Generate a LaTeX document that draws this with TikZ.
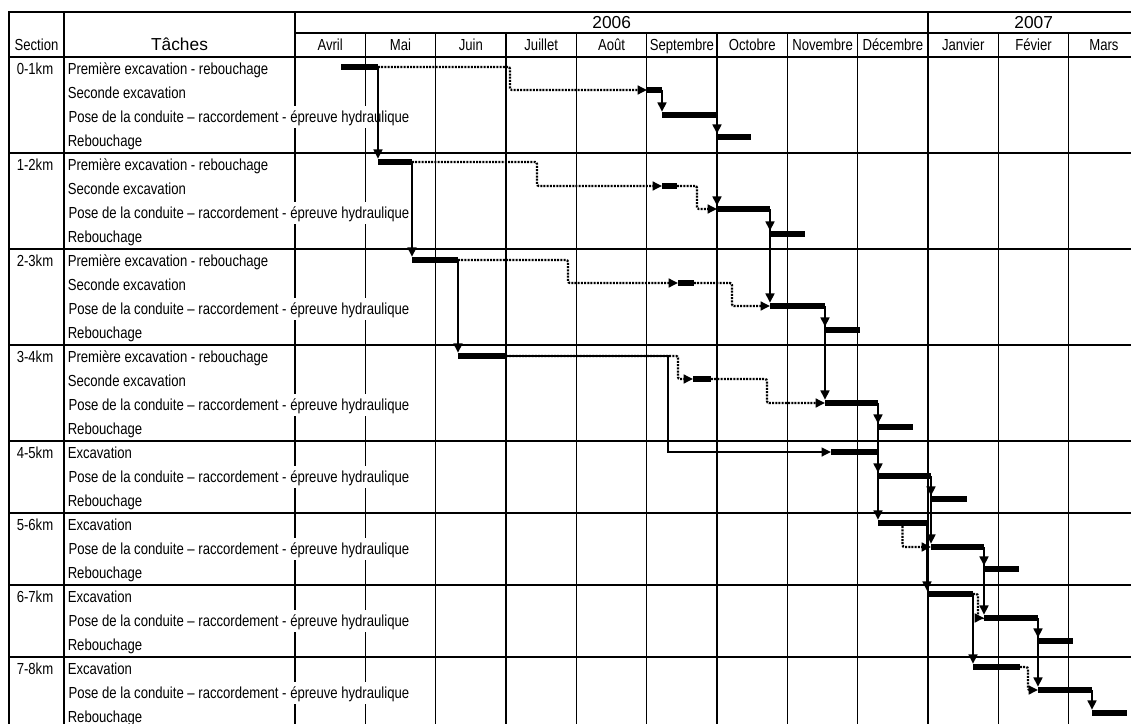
\documentclass[tikz,border=0pt]{standalone}
\usepackage{fontspec}
\setmainfont{Liberation Sans}[FakeStretch=0.82]
\newfontfamily\hdrfont{Liberation Sans}
\usetikzlibrary{arrows.meta,fit,calc}
\newcommand\monthw{70.34}
\newcommand\gbar[4]{\coordinate (#1w) at (#2,#4); \coordinate (#1e) at (#3,#4); \node[barnode, fit=(#1w)(#1e)] (#1) {};}
\tikzset{
  gthin/.style={line width=1pt},
  gthick/.style={line width=1.6pt},
  gframe/.style={line width=2.1pt},
  narrowtxt/.style={font=\fontsize{12pt}{14pt}\selectfont, inner sep=0pt},
  tasktxt/.style={narrowtxt, anchor=base west},
  posetxt/.style={narrowtxt, anchor=base west, fill=white, inner xsep=1pt, inner ysep=3pt, text height=9.5pt, text depth=1pt},
  centxt/.style={narrowtxt, anchor=base},
  widetxt/.style={font=\hdrfont\fontsize{13pt}{15pt}\selectfont, inner sep=0pt, anchor=base},
  barnode/.style={fill=black, draw=none, inner xsep=0pt, inner ysep=2.4pt, outer sep=0pt},
  dep/.style={line width=2.2pt, -{Triangle[length=7pt,width=6.5pt]}},
  link/.style={line width=1.7pt, dash pattern=on 1.5pt off 0.9pt, rounded corners=1.5pt, -{Triangle[length=7pt,width=6.5pt]}}
}
\begin{document}
\begin{tikzpicture}[x=0.75pt,y=-0.75pt]
\useasboundingbox (0,0) rectangle (1131,724);
\clip (0,0) rectangle (1131,724);
% grid
\foreach \i in {1,...,11} { \draw[gthin] ({295+\i*\monthw},33) -- ({295+\i*\monthw},730); }
\draw[gthin] ({295+9*\monthw},12) -- ({295+9*\monthw},33);
\draw[gthin] (295,33) -- (1140,33);
\draw[gthick] (9,57) -- (1140,57);
\foreach \y in {153,249,345,441,513,585,657} { \draw[gthick] (9,\y) -- (1140,\y); }
\draw[gthick] (64,12) -- (64,730);
\draw[gthick] (295,12) -- (295,730);
\draw[gframe] (1140,12) -- (9,12) -- (9,730);
% headers
\node[widetxt] (y2006) at (611.7,28.6) {2006};
\node[widetxt] (y2007) at (1033.7,28.6) {2007};
\node[centxt] (hsec) at (36.5,50.8) {Section};
\node[widetxt] (htask) at (179.5,51) {Tâches};
\foreach \i/\m in {0/Avril,1/Mai,2/Juin,3/Juillet,4/Août,5/Septembre,6/Octobre,7/Novembre,8/Décembre,9/Janvier,10/Févier,11/Mars}{
  \node[centxt] (m\i) at ({295+(\i+0.5)*\monthw},50.8) {\m};
}
% task texts
\foreach \k/\lab/\b in {1/0-1km/57,2/1-2km/153,3/2-3km/249,4/3-4km/345}{
  \node[centxt] (sec\k) at (35,\b+17.7) {\lab};
  \node[tasktxt] (t\k-a) at (67.5,\b+17.7) {Première excavation - rebouchage};
  \node[tasktxt] (t\k-b) at (67.5,\b+41.7) {Seconde excavation};
  \node[posetxt] (t\k-c) at (67,\b+65.7) {Pose de la conduite – raccordement - épreuve hydraulique};
  \node[tasktxt] (t\k-d) at (67.5,\b+89.7) {Rebouchage};
}
\foreach \k/\lab/\b in {5/4-5km/441,6/5-6km/513,7/6-7km/585,8/7-8km/657}{
  \node[centxt] (sec\k) at (35,\b+17.7) {\lab};
  \node[tasktxt] (t\k-a) at (67.5,\b+17.7) {Excavation};
  \node[posetxt] (t\k-c) at (67,\b+41.7) {Pose de la conduite – raccordement - épreuve hydraulique};
  \node[tasktxt] (t\k-d) at (67.5,\b+65.7) {Rebouchage};
}
% bars
\gbar{a1}{341}{378}{67}
\gbar{s1}{647}{662}{90}
\gbar{p1}{662}{717}{115}
\gbar{r1}{717}{751}{137}
\gbar{b1}{378}{412}{162}
\gbar{s2}{662}{677}{186}
\gbar{p2}{717}{770}{209}
\gbar{r2}{770}{805}{234}
\gbar{c1}{412}{458}{260}
\gbar{s3}{678}{694}{283}
\gbar{p3}{770}{825}{306}
\gbar{r3}{825}{860}{330}
\gbar{d1}{458}{506}{356}
\gbar{s4}{693}{711}{379}
\gbar{p4}{825}{878}{403}
\gbar{r4}{878}{913}{427}
\gbar{e5}{831}{878}{452}
\gbar{p5}{878}{931}{476}
\gbar{r5}{931}{967}{499}
\gbar{e6}{878}{927}{523}
\gbar{p6}{931}{984}{547}
\gbar{r6}{984}{1019}{569}
\gbar{e7}{927}{973}{594}
\gbar{p7}{984}{1038}{618}
\gbar{r7}{1038}{1073}{641}
\gbar{e8}{973}{1020}{667}
\gbar{p8}{1038}{1092}{690}
\gbar{r8}{1092}{1127}{713}
% solid dependencies
\draw[dep] (a1.east) -- (a1.east |- b1.north);
\draw[dep] (s1.east) -- (s1.east |- p1.north);
\draw[dep] (p1.east) -- (p1.east |- r1.north);
\draw[dep] (p1.east) -- (p1.east |- p2.north);
\draw[dep] (b1.east) -- (b1.east |- c1.north);
\draw[dep] (p2.east) -- (p2.east |- r2.north);
\draw[dep] (p2.east) -- (p2.east |- p3.north);
\draw[dep] (c1.east) -- (c1.east |- d1.north);
\draw[dep] (p3.east) -- (p3.east |- r3.north);
\draw[dep] (p3.east) -- (p3.east |- p4.north);
\draw[dep] (p4.east) -- (p4.east |- r4.north);
\draw[dep] (p4.east) -- (p4.east |- p5.north);
\draw[dep] (e5.east) -- (e5.east |- e6.north);
\draw[dep] (p5.east) -- (p5.east |- r5.north);
\draw[dep] (p5.east) -- (p5.east |- p6.north);
\draw[dep] (e6.east) -- (e6.east |- e7.north);
\draw[dep] (p6.east) -- (p6.east |- r6.north);
\draw[dep] (p6.east) -- (p6.east |- p7.north);
\draw[dep] (e7.east) -- (e7.east |- e8.north);
\draw[dep] (p7.east) -- (p7.east |- r7.north);
\draw[dep] (p7.east) -- (p7.east |- p8.north);
\draw[dep] (p8.east) -- (p8.east |- r8.north);
\draw[dep, line width=1.6pt] (d1.east) -| (668,452) -- (e5.west);
% dotted links
\draw[link] (a1.east) -| (510,90) -- (s1.west);
\draw[link] (b1.east) -| (537,186) -- (s2.west);
\draw[link] (s2.east) -| (697,209) -- (p2.west);
\draw[link] (c1.east) -| (568,283) -- (s3.west);
\draw[link] (s3.east) -| (732,306) -- (p3.west);
\draw[link] (d1.east) -| (678,379) -- (s4.west);
\draw[link] (s4.east) -| (767,403) -- (p4.west);
\draw[link] (e6.south) |- (p6.west);
\draw[link] (e7.east) -| (978,618) -- (p7.west);
\draw[link] (e8.east) -| (1028,690) -- (p8.west);
\end{tikzpicture}
\end{document}
